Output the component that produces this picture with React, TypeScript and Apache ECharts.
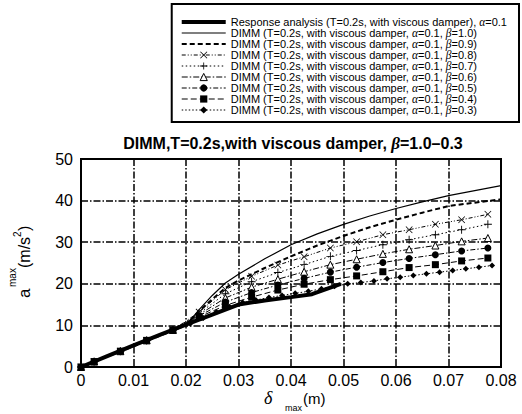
import React, { useEffect, useRef } from "react";
import * as echarts from "echarts";

// Response analysis (thick line)
const respX = [0, 0.005, 0.01, 0.015, 0.02, 0.025, 0.03, 0.035, 0.04, 0.044, 0.0495];
const respY = [0, 2.6, 5.2, 7.7, 10.2, 12.6, 15.0, 16.0, 16.8, 17.5, 20.0];

// DIMM beta=1.0 and 0.9 (no markers)
const smoothX = [0, 0.005, 0.01, 0.015, 0.02, 0.0225, 0.025, 0.0275, 0.03, 0.035, 0.04, 0.045, 0.05, 0.055, 0.06, 0.065, 0.07, 0.075, 0.08];
const b10Y = [0, 2.5, 5, 7.5, 10, 13.8, 17.2, 20.2, 22.3, 26.0, 29.4, 32.0, 34.3, 36.3, 38.1, 39.7, 41.2, 42.4, 43.6];
const b09Y = [0, 2.5, 5, 7.5, 10, 13.4, 16.3, 19.0, 20.8, 23.8, 26.6, 29.2, 31.5, 33.6, 35.4, 37.1, 38.7, 39.5, 40.3];

// DIMM beta=0.8..0.4 (markers every 0.005)
const markX = [0, 0.0025, 0.0075, 0.0125, 0.0175, 0.0225, 0.0275, 0.0325, 0.0375, 0.0425, 0.0475, 0.0525, 0.0575, 0.0625, 0.0675, 0.0725, 0.0775];
const b08Y = [0, 1.3, 3.8, 6.4, 8.9, 13.2, 18.6, 21.8, 24.5, 26.5, 28.6, 30.1, 31.8, 33.0, 34.3, 35.4, 36.7];
const b07Y = [0, 1.3, 3.8, 6.4, 8.9, 12.9, 17.6, 20.5, 22.7, 24.6, 26.6, 28.0, 29.4, 30.6, 31.8, 33.0, 34.3];
const b06Y = [0, 1.3, 3.8, 6.4, 8.9, 12.6, 16.6, 19.2, 21.1, 22.9, 24.6, 25.9, 27.2, 28.3, 29.2, 30.2, 31.0];
const b05Y = [0, 1.3, 3.8, 6.4, 8.9, 12.3, 15.6, 17.9, 19.7, 21.3, 22.8, 24.0, 25.1, 26.1, 27.0, 27.9, 28.6];
const b04Y = [0, 1.3, 3.8, 6.4, 8.9, 12.0, 14.8, 16.8, 18.5, 19.9, 21.0, 21.9, 22.9, 23.9, 24.6, 25.5, 26.2];

// DIMM beta=0.3 (diamonds every 0.0025)
const b03X = [0.0208, 0.0233, 0.0258, 0.0283, 0.0308, 0.0333, 0.0358, 0.0383, 0.0408, 0.0433, 0.0458, 0.0483, 0.0508, 0.0533, 0.0558, 0.0583, 0.0608, 0.0633, 0.0658, 0.0683, 0.0708, 0.0733, 0.0758, 0.0783];
const b03Y = [10.4, 11.8, 13.2, 14.5, 15.5, 16.1, 16.7, 17.2, 17.7, 18.2, 18.8, 19.4, 20.0, 20.3, 20.7, 21.2, 21.6, 22.0, 22.4, 22.8, 23.2, 23.6, 24.0, 24.4];

const xTicks = { min: 0, max: 0.08, interval: 0.01 };
const yTicks = { min: 0, max: 50, interval: 10 };

const names = [
  "Response analysis (T=0.2s, with viscous damper), α=0.1",
  "DIMM (T=0.2s, with viscous damper, α=0.1, β=1.0)",
  "DIMM (T=0.2s, with viscous damper, α=0.1, β=0.9)",
  "DIMM (T=0.2s, with viscous damper, α=0.1, β=0.8)",
  "DIMM (T=0.2s, with viscous damper, α=0.1, β=0.7)",
  "DIMM (T=0.2s, with viscous damper, α=0.1, β=0.6)",
  "DIMM (T=0.2s, with viscous damper, α=0.1, β=0.5)",
  "DIMM (T=0.2s, with viscous damper, α=0.1, β=0.4)",
  "DIMM (T=0.2s, with viscous damper, α=0.1, β=0.3)",
];

const zip = (xs: number[], ys: number[]) => xs.map((x, i) => [x, ys[i]]);

const PLUS = "path://M4,0H5V4H9V5H5V9H4V5H0V4H4Z";
const CROSS = "path://M0.7,0L4.5,3.8L8.3,0L9,0.7L5.2,4.5L9,8.3L8.3,9L4.5,5.2L0.7,9L0,8.3L3.8,4.5L0,0.7Z";

const FONT = "Liberation Sans";

export default function App() {
  const ref = useRef<HTMLDivElement>(null);
  useEffect(() => {
    if (!ref.current) return;
    const chart = echarts.init(ref.current, undefined, { renderer: "svg" });
    const noMark = { color: "rgba(0,0,0,0)", borderWidth: 0 };
    const line = (
      name: string,
      data: number[][],
      width: number,
      type: any,
      symbol: string,
      size: number,
      itemStyle: any,
      z = 2
    ) => ({
      name,
      type: "line",
      data,
      z,
      symbol,
      symbolSize: size,
      showSymbol: symbol !== "none",
      lineStyle: { color: "#000", width, type },
      itemStyle,
      emphasis: { disabled: true },
    });
    const filled = { color: "#000", borderWidth: 0 };
    chart.setOption({
      animation: false,
      title: {
        text: "DIMM,T=0.2s,with viscous damper, {g|β}=1.0–0.3",
        left: 288,
        textAlign: "center",
        top: 130,
        textStyle: {
          fontFamily: FONT,
          fontSize: 16,
          fontWeight: "bold",
          color: "#000",
          rich: {
            g: { fontFamily: "Liberation Serif", fontStyle: "italic", fontWeight: "bold", fontSize: 17, color: "#000" },
          },
        },
      },
      legend: {
        orient: "vertical",
        right: 3,
        top: 4,
        itemWidth: 44,
        itemHeight: 9,
        itemGap: -1,
        padding: [12, 12, 6, 8],
        backgroundColor: "#fff",
        borderColor: "#000",
        borderWidth: 2,
        borderRadius: 0,
        data: names,
        lineStyle: { width: "inherit" },
        itemStyle: { borderWidth: "inherit" },
        textStyle: {
          fontFamily: FONT,
          fontSize: 11,
          lineHeight: 10,
          color: "#000",
          rich: {
            g: { fontFamily: "Liberation Serif", fontStyle: "italic", fontSize: 11.5, lineHeight: 10, color: "#000" },
          },
        },
        formatter: (n: string) => n.replace(/([αβ])/g, "{g|$1}"),
      },
      grid: { left: 81, right: 21, top: 159, bottom: 47, show: true, borderColor: "#000", borderWidth: 2 },
      xAxis: {
        type: "value",
        ...xTicks,
        axisLine: { show: false },
        axisTick: { show: false },
        axisLabel: {
          fontFamily: FONT,
          fontSize: 16,
          color: "#000",
          margin: 5,
          formatter: (v: number) => (v === 0 ? "0" : v.toFixed(2)),
        },
        splitLine: { show: true, lineStyle: { color: "#000", width: 1.5, type: [7, 2, 1.5, 2] } },
      },
      yAxis: {
        type: "value",
        ...yTicks,
        axisLine: { show: false },
        axisTick: { show: false },
        axisLabel: { fontFamily: FONT, fontSize: 16, color: "#000", margin: 8 },
        splitLine: { show: true, lineStyle: { color: "#000", width: 1.5, type: [7, 2, 1.5, 2] } },
      },
      graphic: [
        { type: "text", x: 24, y: 298, rotation: Math.PI / 2, style: { text: "a", fontFamily: FONT, fontSize: 17, fill: "#000", align: "left", verticalAlign: "middle" } },
        { type: "text", x: 12, y: 287, rotation: Math.PI / 2, style: { text: "max", fontFamily: FONT, fontSize: 10, fill: "#000", align: "left", verticalAlign: "middle" } },
        { type: "text", x: 24, y: 268, rotation: Math.PI / 2, style: { text: "(m/s", fontFamily: FONT, fontSize: 16, fill: "#000", align: "left", verticalAlign: "middle" } },
        { type: "text", x: 17, y: 237, rotation: Math.PI / 2, style: { text: "2", fontFamily: FONT, fontSize: 10, fill: "#000", align: "left", verticalAlign: "middle" } },
        { type: "text", x: 24, y: 231, rotation: Math.PI / 2, style: { text: ")", fontFamily: FONT, fontSize: 16, fill: "#000", align: "left", verticalAlign: "middle" } },
        { type: "text", x: 264, y: 398, style: { text: "δ", fontFamily: "Liberation Serif", fontStyle: "italic", fontSize: 18, fill: "#000", align: "left", verticalAlign: "middle" } },
        { type: "text", x: 285, y: 408, style: { text: "max", fontFamily: FONT, fontSize: 9, fill: "#000", align: "left", verticalAlign: "middle" } },
        { type: "text", x: 303, y: 398, style: { text: "(m)", fontFamily: FONT, fontSize: 15, fill: "#000", align: "left", verticalAlign: "middle" } },
      ],
      series: [
        line(names[0], zip(respX, respY), 4, "solid", "none", 0, noMark, 5),
        line(names[1], zip(smoothX, b10Y), 1.2, "solid", "none", 0, noMark),
        line(names[2], zip(smoothX, b09Y), 2, [5, 3], "none", 0, noMark),
        line(names[3], zip(markX, b08Y), 1, [4, 2, 1, 2, 1, 2], CROSS, 7, filled),
        line(names[4], zip(markX, b07Y), 1, [1.5, 2.5], PLUS, 8, filled),
        line(names[5], zip(markX, b06Y), 1, [6, 2, 1.5, 2], "triangle", 7, { color: "#fff", borderColor: "#000", borderWidth: 1 }),
        line(names[6], zip(markX, b05Y), 1, [5, 2, 1.5, 2], "circle", 7, filled),
        line(names[7], zip(markX, b04Y), 1, [6, 3], "rect", 7, filled),
        line(names[8], zip(b03X, b03Y), 1, [1.5, 2], "diamond", 6, filled),
      ],
    });
    return () => chart.dispose();
  }, []);
  return <div ref={ref} style={{ position: "absolute", left: 0, top: 0, width: 522, height: 414 }} />;
}
